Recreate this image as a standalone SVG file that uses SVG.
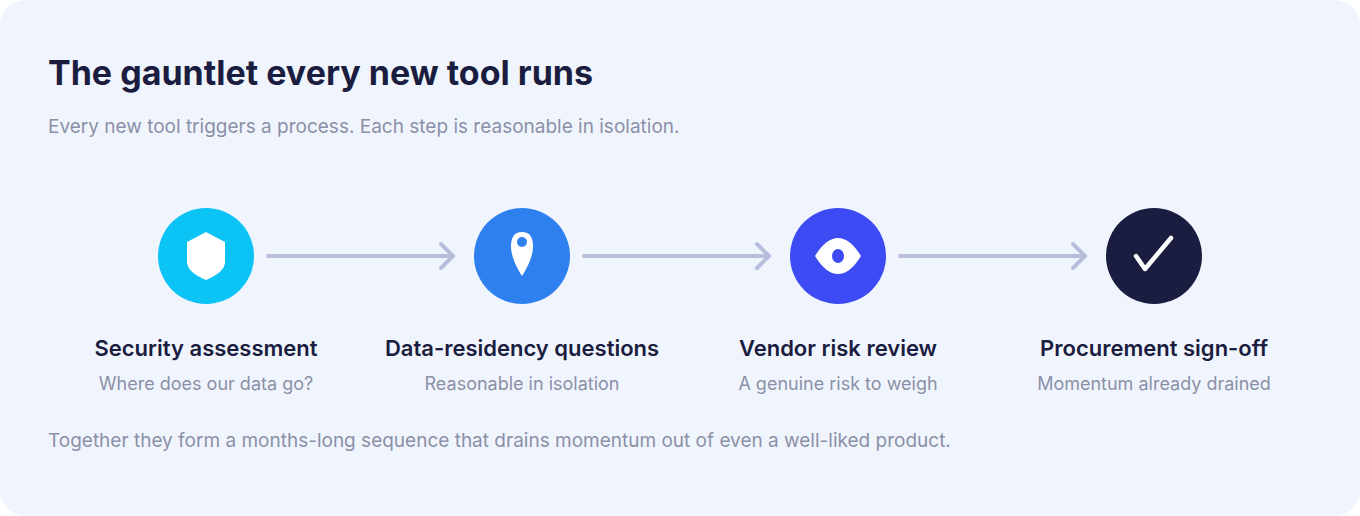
<svg xmlns="http://www.w3.org/2000/svg" width="1360" height="516" viewBox="0 0 1360 516">
<style>
text{font-family:Inter,"Noto Sans","Liberation Sans",sans-serif}
.t{font-size:34px;font-weight:700;fill:#1b1d40}
.s{font-size:19px;fill:#8b90a8}
.l{font-size:22px;font-weight:600;fill:#1b1d40;text-anchor:middle}
.d{font-size:18px;fill:#8b90a8;text-anchor:middle}
.c{stroke:#b6bedc;stroke-width:4;fill:none;stroke-linecap:round;stroke-linejoin:round}
</style>
<rect x="0" y="0" width="1360" height="516" rx="26" fill="#f0f5fd"/>
<text class="t" x="48" y="85">The gauntlet every new tool runs</text>
<text class="s" x="48" y="133">Every new tool triggers a process. Each step is reasonable in isolation.</text>
<g id="connectors">
<path class="c" d="M268 256H453M441 244L453 256L441 268"/>
<path class="c" d="M584 256H769M757 244L769 256L757 268"/>
<path class="c" d="M900 256H1085M1073 244L1085 256L1073 268"/>
</g>
<g id="n1">
<circle cx="206" cy="256" r="48" fill="#0bc3f5"/>
<path d="M206 232L225 242V262Q225 272 206 280Q187 272 187 262V242Z" fill="#fff"/>
<text class="l" x="206" y="356">Security assessment</text>
<text class="d" x="206" y="390">Where does our data go?</text>
</g>
<g id="n2">
<circle cx="522" cy="256" r="48" fill="#2f80ef"/>
<path d="M522 232C514 232 511 238 511 246C511 257 517 268 522 276C527 268 533 257 533 246C533 238 530 232 522 232Z" fill="#fff"/>
<circle cx="522" cy="242" r="5" fill="#2f80ef"/>
<text class="l" x="522" y="356">Data-residency questions</text>
<text class="d" x="522" y="390">Reasonable in isolation</text>
</g>
<g id="n3">
<circle cx="838" cy="256" r="48" fill="#3d4bf5"/>
<path d="M815 256Q826 238 838 238Q850 238 861 256Q850 274 838 274Q826 274 815 256Z" fill="#fff"/>
<ellipse cx="838" cy="256" rx="6" ry="7" fill="#3d4bf5"/>
<text class="l" x="838" y="356">Vendor risk review</text>
<text class="d" x="838" y="390">A genuine risk to weigh</text>
</g>
<g id="n4">
<circle cx="1154" cy="256" r="48" fill="#1b1d40"/>
<path d="M1136 256L1145 269L1171 238" fill="none" stroke="#fff" stroke-width="4.5" stroke-linecap="round" stroke-linejoin="round"/>
<text class="l" x="1154" y="356">Procurement sign-off</text>
<text class="d" x="1154" y="390">Momentum already drained</text>
</g>
<text class="s" x="48" y="447">Together they form a months-long sequence that drains momentum out of even a well-liked product.</text>
</svg>
